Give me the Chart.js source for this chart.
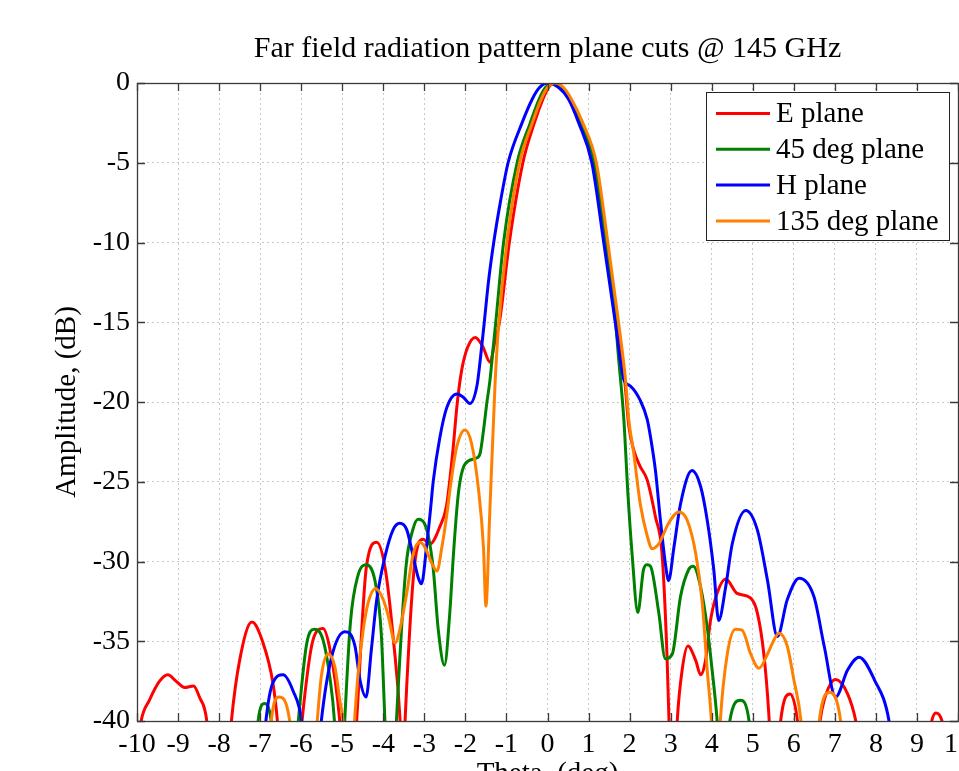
<!DOCTYPE html>
<html>
<head>
<meta charset="utf-8">
<script src="https://cdn.jsdelivr.net/npm/chart.js@4.4.1/dist/chart.umd.min.js"></script>
<style>
  html, body { margin: 0; padding: 0; background: #fff; overflow: hidden; width: 959px; height: 771px; }
  canvas { display: block; }
</style>
</head>
<body>
<canvas id="myChart" width="990" height="810"></canvas>
<script>
// far field cuts, [theta (deg), amplitude (dB)]
// values below -40 only mark where a curve dips out of the axes
var ePlane = [[-10,-42],[-9.9,-40],[-9.7,-38.7],[-9.45,-37.5],[-9.25,-37.1],[-9.05,-37.5],[-8.84,-37.9],[-8.62,-37.8],[-8.48,-38.5],[-8.3,-40],[-8.0,-50],[-7.7,-40],[-7.5,-36.2],[-7.2,-33.8],[-6.93,-35.1],[-6.69,-37.6],[-6.58,-40],[-6.3,-50],[-5.98,-40],[-5.71,-34.9],[-5.47,-34.2],[-5.3,-35.5],[-5.06,-40],[-4.85,-48],[-4.65,-40],[-4.41,-30.3],[-4.16,-28.8],[-3.95,-30.5],[-3.75,-35],[-3.59,-40],[-3.53,-44],[-3.47,-40],[-3.25,-30.5],[-3.03,-28.6],[-2.86,-28.9],[-2.62,-27.8],[-2.46,-26.5],[-2.31,-23.2],[-2.2,-20.1],[-2.09,-18],[-1.95,-16.6],[-1.76,-15.95],[-1.58,-16.5],[-1.4,-17.5],[-1.28,-16.2],[-1.17,-15],[-0.93,-10],[-0.6,-5],[-0.32,-2.5],[-0.11,-1],[0.02,-0.3],[0.17,0],[0.38,-0.3],[0.56,-1],[0.84,-2.5],[1.16,-5],[1.45,-10],[1.71,-15],[1.88,-18.6],[1.98,-21.5],[2.1,-23],[2.25,-24],[2.43,-24.9],[2.63,-27.2],[2.79,-29.5],[2.91,-35.8],[2.96,-40],[3.06,-46],[3.16,-40],[3.28,-36.8],[3.42,-35.3],[3.61,-36.2],[3.73,-37.1],[3.85,-36.2],[3.97,-33.7],[4.13,-32],[4.34,-31.1],[4.62,-32],[4.95,-32.3],[5.11,-33.2],[5.27,-35.8],[5.39,-39.5],[5.52,-46],[5.68,-40],[5.91,-38.3],[6.09,-40],[6.35,-48],[6.64,-40],[6.74,-38.7],[7.02,-37.4],[7.31,-38.3],[7.51,-40],[8.4,-55],[9.36,-40],[9.46,-39.5],[9.61,-40],[10,-46]];

var deg45Plane = [[-7.2,-48],[-7.05,-40],[-6.89,-38.9],[-6.73,-40],[-6.4,-50],[-6.07,-40],[-5.87,-35.2],[-5.68,-34.25],[-5.47,-34.9],[-5.3,-37.3],[-5.19,-40],[-5.06,-47],[-4.94,-40],[-4.8,-33.8],[-4.62,-30.9],[-4.41,-30.2],[-4.18,-31.5],[-4.05,-34.5],[-3.96,-40],[-3.82,-48],[-3.68,-40],[-3.45,-30.4],[-3.28,-28],[-3.15,-27.35],[-3,-27.6],[-2.79,-30.3],[-2.66,-34.3],[-2.51,-36.5],[-2.38,-33.2],[-2.29,-29.5],[-2.17,-25.7],[-2.01,-23.9],[-1.72,-23.5],[-1.64,-23.2],[-1.56,-21.8],[-1.48,-20.1],[-1.4,-18.6],[-1.32,-16.5],[-1.26,-15],[-1.07,-10],[-0.74,-5],[-0.42,-2.5],[-0.2,-1],[-0.055,-0.3],[0.12,0],[0.355,-0.3],[0.55,-1],[0.82,-2.5],[1.13,-5],[1.42,-10],[1.66,-15],[1.72,-16.9],[1.86,-21.1],[1.96,-25.8],[2.06,-29.5],[2.2,-33.2],[2.34,-30.5],[2.43,-30.2],[2.51,-30.3],[2.71,-33.2],[2.87,-36.1],[3.04,-35.8],[3.24,-32.2],[3.44,-30.5],[3.55,-30.3],[3.73,-31.6],[3.89,-34.1],[4.01,-36.8],[4.13,-39.9],[4.28,-46],[4.44,-40],[4.7,-38.7],[4.91,-40],[5.1,-48]];

var hPlane = [[-7.1,-48],[-6.86,-40],[-6.69,-37.6],[-6.44,-37.1],[-6.2,-38.1],[-5.99,-40],[-5.75,-47],[-5.51,-40],[-5.26,-36],[-4.94,-34.4],[-4.69,-35.3],[-4.57,-37.4],[-4.42,-38.5],[-4.29,-35.5],[-4.16,-32.4],[-3.96,-29.7],[-3.76,-28],[-3.6,-27.6],[-3.43,-28],[-3.27,-29.7],[-3.15,-31],[-3.07,-31.4],[-2.94,-28.9],[-2.86,-27],[-2.78,-24.9],[-2.62,-22.2],[-2.46,-20.4],[-2.21,-19.5],[-2.05,-19.7],[-1.89,-20.1],[-1.72,-19],[-1.64,-17.4],[-1.54,-15],[-1.44,-12.5],[-1.31,-10],[-1.15,-7.5],[-0.96,-5],[-0.62,-2.5],[-0.37,-1],[-0.2,-0.3],[0,0],[0.28,-0.3],[0.51,-1],[0.76,-2.5],[1.08,-5],[1.37,-10],[1.65,-15],[1.86,-18.6],[2.02,-19],[2.26,-19.9],[2.43,-21.1],[2.51,-22.2],[2.63,-24.3],[2.75,-27.4],[2.87,-30.1],[2.95,-31.2],[3.08,-29.1],[3.24,-26.4],[3.52,-24.3],[3.73,-25.3],[3.89,-27.4],[4.05,-30.5],[4.17,-33.7],[4.34,-31.6],[4.5,-28.9],[4.83,-26.8],[5.11,-28],[5.36,-31.2],[5.6,-34.7],[5.84,-32.4],[6.13,-31.05],[6.49,-32.2],[6.74,-35.3],[7.02,-38.5],[7.31,-36.8],[7.59,-36],[7.96,-37.4],[8.32,-40],[8.6,-46]];

var deg135Plane = [[-6.9,-48],[-6.73,-40],[-6.54,-38.5],[-6.28,-40],[-5.95,-50],[-5.61,-40],[-5.51,-37.2],[-5.34,-35.8],[-5.18,-36.6],[-5.06,-38.7],[-4.98,-40],[-4.84,-46],[-4.7,-40],[-4.62,-37.2],[-4.49,-34.3],[-4.37,-32.6],[-4.19,-31.7],[-4.0,-32.4],[-3.88,-33.4],[-3.71,-35.1],[-3.6,-34.3],[-3.43,-32],[-3.27,-29.5],[-3.11,-28.8],[-2.99,-29.1],[-2.82,-30.1],[-2.69,-30.6],[-2.58,-29.2],[-2.46,-27.2],[-2.35,-25],[-2.21,-22.8],[-2.01,-21.75],[-1.85,-22.6],[-1.68,-25.5],[-1.56,-29.1],[-1.5,-32.8],[-1.41,-27.2],[-1.28,-19],[-1.2,-15.5],[-0.99,-10],[-0.68,-5],[-0.37,-2.5],[-0.15,-1],[-0.005,-0.3],[0.17,0],[0.395,-0.3],[0.58,-1],[0.86,-2.5],[1.19,-5],[1.47,-10],[1.73,-15],[1.9,-18.6],[1.98,-21.1],[2.1,-23.2],[2.26,-26.4],[2.43,-28.4],[2.55,-29.2],[2.71,-28.9],[2.95,-27.6],[3.2,-26.9],[3.4,-27.4],[3.61,-29.5],[3.77,-32.6],[3.89,-36.8],[3.99,-39.9],[4.1,-46],[4.21,-40],[4.38,-35.8],[4.58,-34.25],[4.74,-34.3],[4.95,-35.8],[5.15,-36.7],[5.36,-35.8],[5.52,-34.9],[5.64,-34.5],[5.84,-35.3],[6,-37.4],[6.17,-39.9],[6.4,-48],[6.62,-40],[6.88,-38.2],[7.14,-40],[7.4,-48]];

var seriesNames = ["E plane", "45 deg plane", "H plane", "135 deg plane"];
var seriesColors = ["#ff0000", "#008000", "#0000ff", "#ff8000"];
var xRange = [-10, 10];
var yRange = [-40, 0];

var serif = "'Liberation Serif', 'Times New Roman', serif";

function toPoints(arr) {
    return arr.map(function (p) {
        return {x: p[0], y: p[1]};
    });
}

// matlab style box, inner ticks and a framed legend
var matlabFrame = {
    id: 'matlabFrame',
    afterDatasetsDraw: function (chart) {
        var ctx = chart.ctx;
        var a = chart.chartArea;
        var xs = chart.scales.x, ys = chart.scales.y;
        ctx.save();
        ctx.strokeStyle = '#3a3a3a';
        ctx.lineWidth = 1.3;
        ctx.beginPath();
        xs.ticks.forEach(function (t) {
            var px = Math.round(xs.getPixelForValue(t.value)) + 0.5;
            ctx.moveTo(px, a.bottom); ctx.lineTo(px, a.bottom - 8);
            ctx.moveTo(px, a.top); ctx.lineTo(px, a.top + 8);
        });
        ys.ticks.forEach(function (t) {
            var py = Math.round(ys.getPixelForValue(t.value)) + 0.5;
            ctx.moveTo(a.left, py); ctx.lineTo(a.left + 8, py);
            ctx.moveTo(a.right, py); ctx.lineTo(a.right - 8, py);
        });
        ctx.stroke();
        ctx.strokeRect(a.left + 0.5, a.top + 0.5, a.right - a.left, a.bottom - a.top);

        // legend
        var lx = a.right - 252, ly = a.top + 9, lw = 243, lh = 148;
        ctx.fillStyle = '#fff';
        ctx.fillRect(lx, ly, lw, lh);
        ctx.strokeStyle = '#222';
        ctx.lineWidth = 1;
        ctx.strokeRect(lx + 0.5, ly + 0.5, lw, lh);
        ctx.font = "29px " + serif;
        ctx.textBaseline = 'middle';
        ctx.fillStyle = '#000';
        chart.data.datasets.forEach(function (ds, i) {
            var ry = ly + 21.5 + i * 35.8;
            ctx.strokeStyle = ds.borderColor;
            ctx.lineWidth = 3;
            ctx.beginPath();
            ctx.moveTo(lx + 10, ry);
            ctx.lineTo(lx + 64, ry);
            ctx.stroke();
            ctx.fillText(ds.label, lx + 70, ry + 1);
        });
        ctx.restore();
    }
};

var allSeries = [ePlane, deg45Plane, hPlane, deg135Plane];
var datasets = allSeries.map(function (s, i) {
    return {
        label: seriesNames[i],
        data: toPoints(s),
        borderColor: seriesColors[i],
        backgroundColor: seriesColors[i],
        borderWidth: 3,
        pointRadius: 0,
        fill: false,
        cubicInterpolationMode: 'monotone',
        clip: 0,
        order: 3 - i
    };
});

var mychart = new Chart(document.getElementById('myChart'), {
    type: 'line',
    data: {datasets: datasets},
    options: {
        responsive: false,
        animation: false,
        devicePixelRatio: 1,
        layout: {padding: {left: 0, right: 32, top: 0, bottom: 0}},
        plugins: {
            legend: {display: false},
            tooltip: {enabled: false},
            title: {
                display: true,
                text: 'Far field radiation pattern plane cuts @ 145 GHz',
                fullSize: false,
                color: '#000',
                font: {family: serif, size: 30, weight: 'normal'},
                padding: {top: 31, bottom: 16}
            }
        },
        scales: {
            x: {
                type: 'linear',
                min: xRange[0],
                max: xRange[1],
                afterFit: function (s) { s.height = 89; },
                ticks: {
                    stepSize: 1,
                    autoSkip: false,
                    maxRotation: 0,
                    color: '#000',
                    padding: 7,
                    font: {family: serif, size: 28}
                },
                grid: {color: '#c8c8c8', lineWidth: 1, drawTicks: false},
                border: {display: false, dash: [2, 3]},
                title: {
                    display: true,
                    text: 'Theta, (deg)',
                    color: '#000',
                    font: {family: serif, size: 29},
                    padding: {top: 0, bottom: 18}
                }
            },
            y: {
                min: yRange[0],
                max: yRange[1],
                afterFit: function (s) { s.width = 137; },
                ticks: {
                    stepSize: 5,
                    color: '#000',
                    padding: 7,
                    font: {family: serif, size: 28}
                },
                grid: {color: '#c8c8c8', lineWidth: 1, drawTicks: false},
                border: {display: false, dash: [2, 3]},
                title: {
                    display: true,
                    text: 'Amplitude, (dB)',
                    color: '#000',
                    font: {family: serif, size: 29},
                    padding: {top: 50, bottom: 0}
                }
            }
        }
    },
    plugins: [matlabFrame]
});
</script>
</body>
</html>
